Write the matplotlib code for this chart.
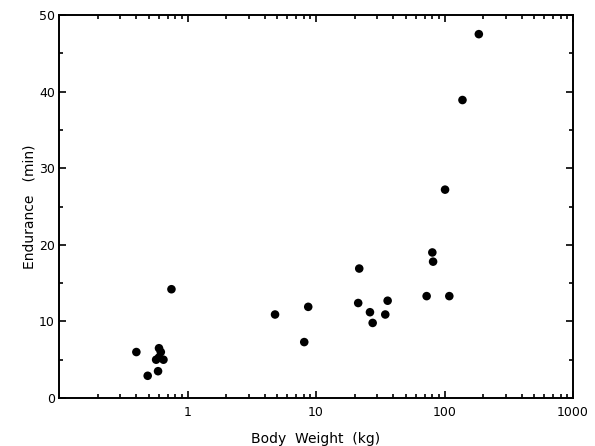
import matplotlib
matplotlib.use("Agg")
import matplotlib.pyplot as plt
from matplotlib.ticker import LogLocator, FixedLocator, NullFormatter, FixedFormatter

# Data (body weight in kg, endurance in min)
body_weight = [0.40, 0.49, 0.59, 0.60, 0.62, 0.60, 0.57, 0.65, 0.75,
               4.8, 8.7, 8.1, 21.7, 21.3, 26.3, 27.6, 36.1, 34.6,
               101, 80.4, 81.5, 72.6, 109, 138, 185]
endurance = [6.0, 2.9, 3.5, 6.5, 6.0, 5.3, 5.0, 5.0, 14.2,
             10.9, 11.9, 7.3, 16.9, 12.4, 11.2, 9.8, 12.7, 10.9,
             27.2, 19.0, 17.8, 13.3, 13.3, 38.9, 47.5]

x_ticks = [1, 10, 100, 1000]
x_tick_labels = ["1", "10", "100", "1000"]
y_ticks = [0, 10, 20, 30, 40, 50]

plt.rcParams['font.family'] = ['DejaVu Sans']
fig = plt.figure(figsize=(5.95, 4.46), dpi=100)
ax = fig.add_axes([59/595, 48/446, (573-59)/595, (398-15)/446])

ax.scatter(body_weight, endurance, s=38, color='black', edgecolors='none', zorder=3)

ax.set_xscale('log')
ax.set_xlim(0.1, 1000)
ax.set_ylim(0, 50)

ax.xaxis.set_major_locator(FixedLocator(x_ticks))
ax.xaxis.set_major_formatter(FixedFormatter(x_tick_labels))
ax.xaxis.set_minor_locator(LogLocator(base=10, subs=range(2, 10), numticks=20))
ax.xaxis.set_minor_formatter(NullFormatter())
ax.yaxis.set_major_locator(FixedLocator(y_ticks))
ax.yaxis.set_minor_locator(FixedLocator([5, 15, 25, 35, 45]))

ax.tick_params(which='both', direction='in', top=True, right=True,
               labelsize=9, colors='black', width=1.2)
ax.tick_params(axis='x', pad=6)
ax.tick_params(axis='y', pad=3)
ax.tick_params(which='major', length=5)
ax.tick_params(which='minor', length=3)
for s in ax.spines.values():
    s.set_linewidth(1.4)

ax.set_xlabel("Body  Weight  (kg)", fontsize=10, labelpad=9)
ax.set_ylabel("Endurance   (min)", fontsize=10, labelpad=2)

fig.savefig("out.png", dpi=100)
